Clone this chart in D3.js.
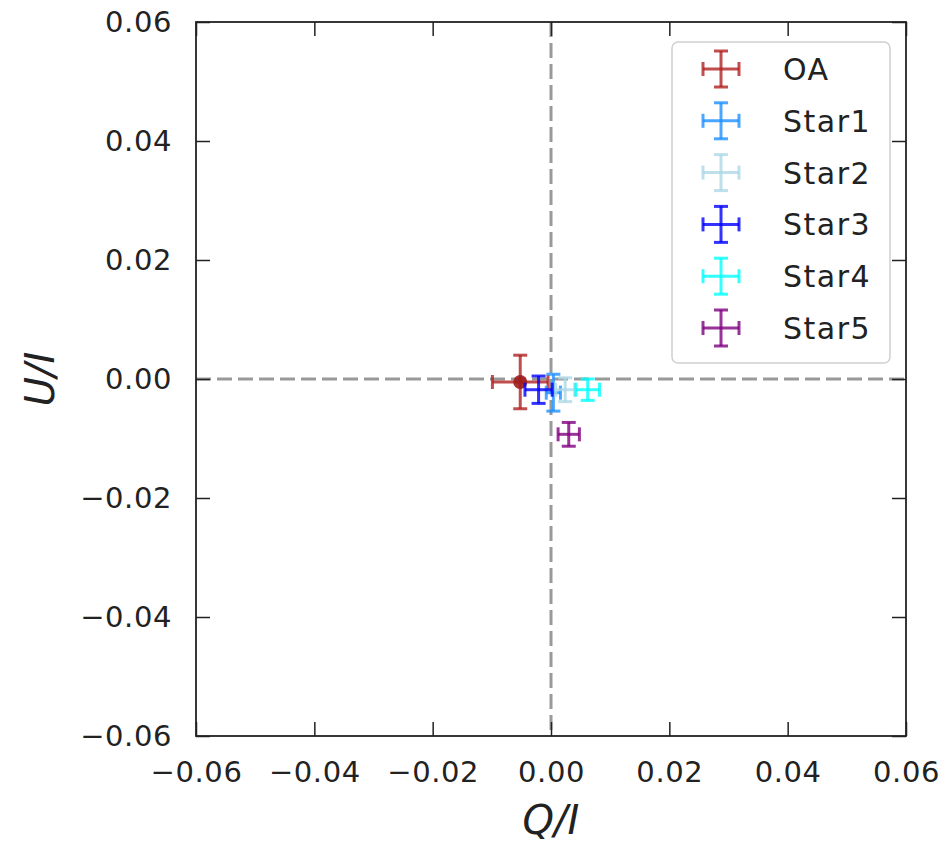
<!DOCTYPE html>
<html lang="en">
<head>
	<meta charset="UTF-8">
	<title>Q/I vs U/I</title>
	<script src="https://d3js.org/d3.v7.min.js"></script>
	<style>
		body { margin: 0; background: #fff; }
		svg { display: block; font-family: "DejaVu Sans", sans-serif; }
		.tick text { fill: #222; }
	</style>
</head>
<body>
<script>
	// data
	var names = ["OA", "Star1", "Star2", "Star3", "Star4", "Star5"];
	var colors = ["#b22222", "#1e90ff", "#add8e6", "#0000ff", "#00ffff", "#800080"];
	var qVals = [-0.0052, 0.0004, 0.0024, -0.0021, 0.0062, 0.0030];
	var uVals = [-0.0005, -0.0023, -0.0018, -0.0018, -0.0018, -0.0093];
	var qErr = [0.0047, 0.0012, 0.0016, 0.0023, 0.0020, 0.0018];
	var uErr = [0.0045, 0.0031, 0.0020, 0.0023, 0.0018, 0.0020];
	var tickVals = [-0.06, -0.04, -0.02, 0.00, 0.02, 0.04, 0.06];

	(function () {
		var width = 947, height = 845;
		var pLeft = 196, pRight = 906, pTop = 22, pBottom = 736;
		var tickLen = 14, cap = 7;

		var x = d3.scaleLinear().domain([-0.06, 0.06]).range([pLeft, pRight]);
		var y = d3.scaleLinear().domain([-0.06, 0.06]).range([pBottom, pTop]);

		var fmt = function (d) { return d3.format(".2f")(d).replace("-", "\u2212"); };

		var svg = d3.select("body").append("svg")
			.attr("width", width)
			.attr("height", height);

		// zero lines
		svg.append("line")
			.attr("x1", x(0)).attr("x2", x(0))
			.attr("y1", pTop).attr("y2", pBottom)
			.attr("stroke", "#808080").attr("stroke-opacity", 0.8)
			.attr("stroke-width", 3).attr("stroke-dasharray", "15,6");
		svg.append("line")
			.attr("x1", pLeft).attr("x2", pRight)
			.attr("y1", y(0)).attr("y2", y(0))
			.attr("stroke", "#808080").attr("stroke-opacity", 0.8)
			.attr("stroke-width", 3).attr("stroke-dasharray", "15,6");

		// axes, ticks inward on all sides
		function styleAxis(g) {
			g.attr("font-family", null);
			g.select(".domain").remove();
			g.selectAll(".tick line").attr("stroke", "#222").attr("stroke-width", 1.5);
			g.selectAll(".tick text").attr("font-size", 29).attr("letter-spacing", 0.6);
		}

		svg.append("g")
			.attr("transform", "translate(0," + pBottom + ")")
			.call(d3.axisBottom(x).tickValues(tickVals).tickFormat(fmt).tickSizeInner(-tickLen).tickPadding(tickLen + 11))
			.call(styleAxis);
		svg.append("g")
			.attr("transform", "translate(0," + pTop + ")")
			.call(d3.axisTop(x).tickValues(tickVals).tickFormat("").tickSizeInner(-tickLen))
			.call(styleAxis);
		svg.append("g")
			.attr("transform", "translate(" + pLeft + ",0)")
			.call(d3.axisLeft(y).tickValues(tickVals).tickFormat(fmt).tickSizeInner(-tickLen).tickPadding(tickLen + 10))
			.call(styleAxis);
		svg.append("g")
			.attr("transform", "translate(" + pRight + ",0)")
			.call(d3.axisRight(y).tickValues(tickVals).tickFormat("").tickSizeInner(-tickLen))
			.call(styleAxis);

		// frame
		svg.append("rect")
			.attr("x", pLeft).attr("y", pTop)
			.attr("width", pRight - pLeft).attr("height", pBottom - pTop)
			.attr("fill", "none").attr("stroke", "#222").attr("stroke-width", 1.8);

		// axis labels
		svg.append("text")
			.attr("x", (pLeft + pRight) / 2).attr("y", 834)
			.attr("text-anchor", "middle")
			.attr("font-size", 40).attr("font-style", "italic").attr("fill", "#222")
			.text("Q/I");
		svg.append("text")
			.attr("transform", "translate(54," + (pTop + pBottom) / 2 + ") rotate(-90)")
			.attr("text-anchor", "middle")
			.attr("font-size", 40).attr("font-style", "italic").attr("fill", "#222")
			.text("U/I");

		// error bar crosses
		function cross(g, cx, cy, hx, hy, color) {
			var s = g.append("g")
				.attr("stroke", color).attr("stroke-opacity", 0.8)
				.attr("stroke-width", 3).attr("fill", "none");
			s.append("line").attr("x1", cx - hx).attr("x2", cx + hx).attr("y1", cy).attr("y2", cy);
			s.append("line").attr("x1", cx).attr("x2", cx).attr("y1", cy - hy).attr("y2", cy + hy);
			s.append("line").attr("x1", cx - hx).attr("x2", cx - hx).attr("y1", cy - cap).attr("y2", cy + cap);
			s.append("line").attr("x1", cx + hx).attr("x2", cx + hx).attr("y1", cy - cap).attr("y2", cy + cap);
			s.append("line").attr("x1", cx - cap).attr("x2", cx + cap).attr("y1", cy - hy).attr("y2", cy - hy);
			s.append("line").attr("x1", cx - cap).attr("x2", cx + cap).attr("y1", cy + hy).attr("y2", cy + hy);
		}

		var plot = svg.append("g");
		names.forEach(function (n, i) {
			var cx = x(qVals[i]), cy = y(uVals[i]);
			var hx = x(qVals[i] + qErr[i]) - cx;
			var hy = cy - y(uVals[i] + uErr[i]);
			cross(plot, cx, cy, hx, hy, colors[i]);
			if (i === 0) {
				plot.append("circle")
					.attr("cx", cx).attr("cy", cy).attr("r", 7)
					.attr("fill", "#a01c1c").attr("fill-opacity", 0.9);
			}
		});

		// legend
		var lg = svg.append("g");
		lg.append("rect")
			.attr("x", 672).attr("y", 42)
			.attr("width", 218).attr("height", 321)
			.attr("rx", 6)
			.attr("fill", "#fff").attr("fill-opacity", 0.8)
			.attr("stroke", "#d0d0d0").attr("stroke-width", 1.5);
		names.forEach(function (n, i) {
			var ly = 69 + i * 51.8;
			cross(lg, 721, ly, 18, 18, colors[i]);
			lg.append("text")
				.attr("x", 783).attr("y", ly + 11)
				.attr("font-size", 30).attr("letter-spacing", 1.5).attr("fill", "#222")
				.text(n);
		});
	})();
</script>
</body>
</html>
